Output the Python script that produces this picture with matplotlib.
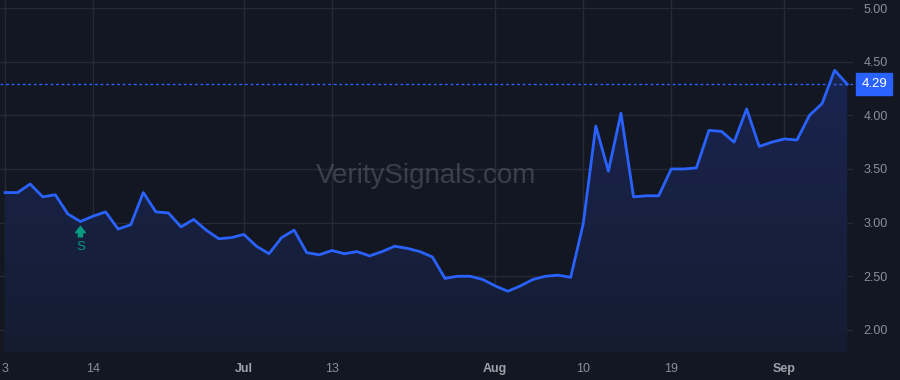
import numpy as np
import matplotlib
matplotlib.use("Agg")
import matplotlib.pyplot as plt
from matplotlib.colors import LinearSegmentedColormap

# daily closes, one per bar
prices = [3.28, 3.28, 3.36, 3.24, 3.26, 3.08, 3.01, 3.06, 3.10, 2.94,
          2.98, 3.28, 3.10, 3.09, 2.96, 3.03, 2.93, 2.85, 2.86, 2.89,
          2.78, 2.71, 2.86, 2.93, 2.72, 2.70, 2.74, 2.71, 2.73, 2.69,
          2.73, 2.78, 2.76, 2.73, 2.68, 2.48, 2.50, 2.50, 2.47, 2.41,
          2.36, 2.41, 2.47, 2.50, 2.51, 2.49, 2.99, 3.90, 3.48, 4.02,
          3.24, 3.25, 3.25, 3.50, 3.50, 3.51, 3.86, 3.85, 3.75, 4.06,
          3.71, 3.75, 3.78, 3.77, 4.00, 4.11, 4.42, 4.29]
last_price = 4.29

tick_idx = [0, 7, 19, 26, 39, 46, 53, 62]
tick_labels = ["3", "14", "Jul", "13", "Aug", "10", "19", "Sep"]
month_labels = {"Jul", "Aug", "Sep"}

price_ticks = [2.00, 2.50, 3.00, 3.50, 4.00, 4.50, 5.00]

signal_idx = 6
signal_text = "S"
watermark = "VeritySignals.com"

bg = "#131722"
grid_c = "#262a35"
line_c = "#2962ff"
green = "#089981"
fonts = ["Liberation Sans", "DejaVu Sans"]

x = np.arange(len(prices))
y = np.array(prices)

fig = plt.figure(figsize=(9, 3.8), dpi=100, facecolor=bg)
ax = fig.add_axes([0, 28 / 380, 853 / 900, 352 / 380])
ax.set_facecolor(bg)

ax.set_xlim(-0.4, 67.46)
ax.set_ylim(1.794, 5.075)

# gradient under the line
fill = ax.fill_between(x, y, 1.794, color="none", lw=0)
cmap = LinearSegmentedColormap.from_list("g", ["#151c31", "#1a2550"])
grad = np.linspace(0, 1, 256).reshape(-1, 1)
im = ax.imshow(grad, cmap=cmap, aspect="auto", origin="lower",
               extent=[x[0], x[-1], 1.794, max(prices)], zorder=1)
im.set_clip_path(fill.get_paths()[0], transform=ax.transData)

ax.plot(x, y, color=line_c, lw=2, zorder=3)

ax.axhline(last_price, color=line_c, lw=1, ls=(0, (2, 2)), zorder=2)

ax.set_xticks(tick_idx)
ax.set_xticklabels(tick_labels)
for lab in ax.get_xticklabels():
    if lab.get_text() in month_labels:
        lab.set_fontweight("bold")
        lab.set_color("#9ea1a9")
    else:
        lab.set_color("#8c8f98")
ax.tick_params(axis="x", length=0, pad=8, labelsize=9)

ax.yaxis.tick_right()
ax.set_yticks(price_ticks)
ax.set_yticklabels([f"{p:.2f}" for p in price_ticks])
ax.tick_params(axis="y", length=0, pad=7.5, labelsize=9, labelcolor="#8c8f98")

ax.grid(True, color=grid_c, lw=1, zorder=0)
ax.set_axisbelow(True)
for s in ax.spines.values():
    s.set_visible(False)

# last price tag
ax.annotate(f"{last_price:.2f}", xy=(1.0, last_price), xycoords=("axes fraction", "data"),
            xytext=(6, 0), textcoords="offset points", va="center", ha="left",
            color="white", fontsize=9.5, family=fonts,
            bbox=dict(boxstyle="square,pad=0.4", fc=line_c, ec=line_c))

# signal marker
ax.annotate("", xy=(signal_idx, prices[signal_idx]), xycoords="data",
            xytext=(0, -11), textcoords="offset points",
            arrowprops=dict(arrowstyle="simple,head_length=0.45,head_width=0.7,tail_width=0.3",
                            fc=green, ec=green, shrinkA=0, shrinkB=3.5))
ax.annotate(signal_text, xy=(signal_idx, prices[signal_idx]), xycoords="data",
            xytext=(0, -14), textcoords="offset points", ha="center", va="top",
            color=green, fontsize=9.5, family=fonts)

ax.text(0.5, 0.5, watermark, transform=ax.transAxes, ha="center", va="center",
        fontsize=20, color="#5d606b", alpha=0.55, family=fonts, zorder=5)

for lab in ax.get_xticklabels() + ax.get_yticklabels():
    lab.set_family(fonts)

fig.savefig("out.png", dpi=100, facecolor=bg)
